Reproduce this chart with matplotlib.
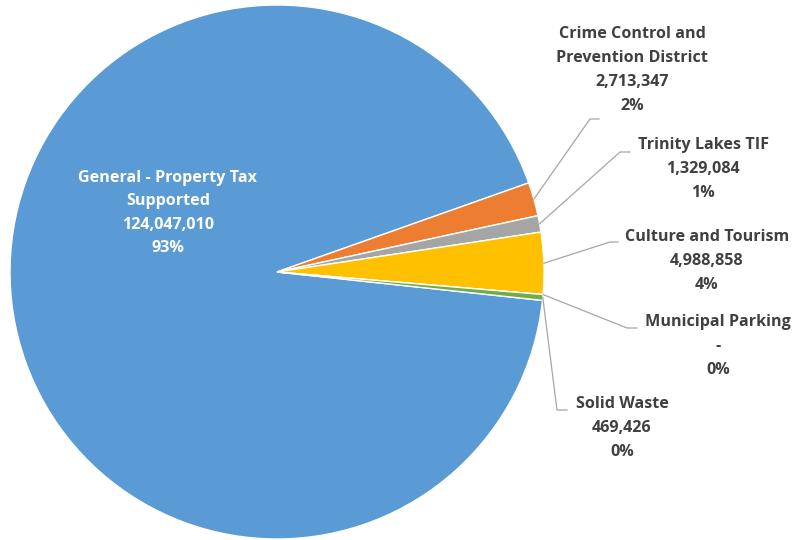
import matplotlib
matplotlib.use("Agg")
import matplotlib.pyplot as plt
import numpy as np

# data
funds = ["General - Property Tax\nSupported", "Crime Control and\nPrevention District",
         "Trinity Lakes TIF", "Culture and Tourism", "Municipal Parking", "Solid Waste"]
amounts = [124047010, 2713347, 1329084, 4988858, 0, 469426]
colors = ["#5B9BD5", "#ED7D31", "#A5A5A5", "#FFC000", "#4472C4", "#70AD47"]

# layout in pixels (figure 792x540): pie centre and radius
W, H = 792, 540
CX, CY, R = 277, 272, 267
# label centres, elbow points and leader ends for the outside labels (pixels)
label_xy = [(168, 213), (632, 70), (703, 169), (707, 261), (718, 346), (622, 428)]
elbows = [None, (590, 119), (620, 152), (610, 242), (627, 328), (557, 410)]
ends = [None, (599, 119), (630, 152), (618, 242), (637, 328), (567, 410)]


def to_data(p):
    return (p[0] - CX) / R, (CY - p[1]) / R


plt.rcParams["font.family"] = ["Open Sans", "DejaVu Sans"]
fig = plt.figure(figsize=(W / 100, H / 100), dpi=100)
ax = fig.add_axes([0, 0, 1, 1])

total = sum(amounts)
start = 19.5 + 360 * amounts[0] / total
wedges, _ = ax.pie(amounts, colors=colors, startangle=start, counterclock=False,
                   radius=1, wedgeprops=dict(edgecolor="white", linewidth=1))

ax.set_xlim(-CX / R, (W - CX) / R)
ax.set_ylim(-(H - CY) / R, CY / R)
ax.set_aspect("equal")
ax.axis("off")

fs = 11.6
for i, (name, amt) in enumerate(zip(funds, amounts)):
    pct = f"{100 * amt / total:.0f}%"
    val = f"{amt:,}" if amt else "-"
    txt = f"{name}\n{val}\n{pct}"
    tx, ty = to_data(label_xy[i])
    if i == 0:
        ax.text(tx, ty, txt, ha="center", va="center", color="white",
                fontsize=fs, fontweight="bold", linespacing=1.6)
        continue
    w = wedges[i]
    mid = np.deg2rad((w.theta1 + w.theta2) / 2)
    ex, ey = np.cos(mid), np.sin(mid)
    bx, by = to_data(elbows[i])
    fx, fy = to_data(ends[i])
    ax.plot([ex, bx, fx], [ey, by, fy], color="#A6A6A6", lw=0.9)
    ax.text(tx, ty, txt, ha="center", va="center", color="#404040",
            fontsize=fs, fontweight="bold", linespacing=1.65)

fig.savefig("out.png", dpi=100)
